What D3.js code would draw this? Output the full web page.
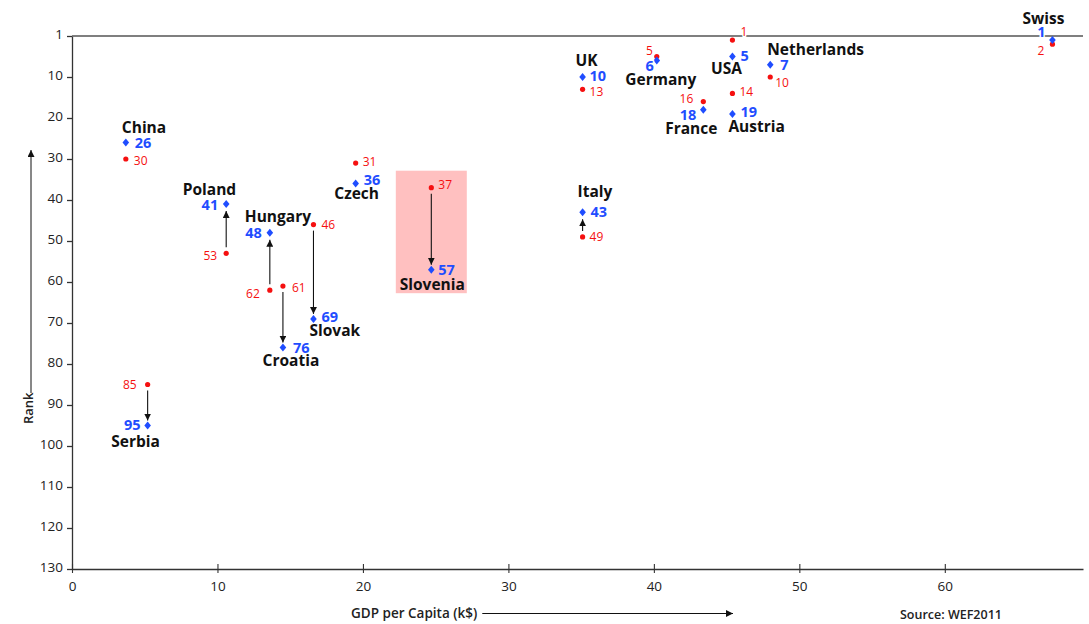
<!DOCTYPE html>
<html><head><meta charset="utf-8">
<script src="https://cdn.jsdelivr.net/npm/d3@7"></script>
<style>
body{margin:0;background:#fff}
svg text{font-family:"Open Sans","Noto Sans",sans-serif}
</style>
</head><body>
<svg id="chart" width="1089" height="624"></svg>
<script>
// ---------- data ----------
const countries = ["Swiss","USA","Netherlands","Germany","UK","France","Austria","China","Czech","Poland","Hungary","Croatia","Slovak","Slovenia","Italy","Serbia"];
const gdp       = [67.4, 45.4, 48.0, 40.2, 35.1, 43.4, 45.4, 3.7, 19.5, 10.6, 13.6, 14.5, 16.6, 24.7, 35.1, 5.2];
const rankNew   = [1, 5, 7, 6, 10, 18, 19, 26, 36, 41, 48, 76, 69, 57, 43, 95];   // blue diamonds
const rankOld   = [2, 1, 10, 5, 13, 16, 14, 30, 31, 53, 62, 61, 46, 37, 49, 85];  // red dots
const arrowCountries = ["Poland","Hungary","Croatia","Slovak","Slovenia","Italy","Serbia"];
const highlighted = ["Slovenia"];
const xTickValues = [0,10,20,30,40,50,60];
const yTickValues = [0,10,20,30,40,50,60,70,80,90,100,110,120,130];
const yTickLabels = ["1","10","20","30","40","50","60","70","80","90","100","110","120","130"];
const xTitle = "GDP per Capita (k$)";
const yTitle = "Rank";
const sourceText = "Source: WEF2011";

// ---------- label layout (anchor, dx, dy relative to marker) ----------
const labelLayout = {
  Swiss:       {name:["middle",-9,-16], blue:["end",-7,-3], red:["end",-8,11]},
  USA:         {name:["middle",-6,17],  blue:["start",8,4], red:["start",8,-4]},
  Netherlands: {name:["start",-3,-10],  blue:["start",10,5],red:["start",5,10]},
  Germany:     {name:["middle",4,24],   blue:["end",-3,10], red:["end",-4,-2]},
  UK:          {name:["start",-7,-11],  blue:["start",7,4], red:["start",7,7]},
  France:      {name:["middle",-12,24], blue:["end",-7,10], red:["end",-10,1]},
  Austria:     {name:["start",-4,18],   blue:["start",8,3], red:["start",7,3]},
  China:       {name:["start",-4,-10],  blue:["start",9,5], red:["start",8,6]},
  Czech:       {name:["middle",1,15.5], blue:["start",8,1], red:["start",7,3]},
  Poland:      {name:["end",10,-9],     blue:["end",-8,6],  red:["end",-9,6.5]},
  Hungary:     {name:["start",-25,-11], blue:["end",-8,5],  red:["end",-10,8]},
  Croatia:     {name:["middle",8,18],   blue:["start",10,5],red:["start",9,6]},
  Slovak:      {name:["start",-4,17],   blue:["start",8,3], red:["start",8,4]},
  Slovenia:    {name:["middle",1,20],   blue:["start",7,5], red:["start",7,1]},
  Italy:       {name:["start",-5,-15],  blue:["start",8,5], red:["start",7,4]},
  Serbia:      {name:["middle",-12,21], blue:["end",-7,4],  red:["end",-11,4]}
};

const BLUE = "#1f4dff", RED = "#f51010", PINK = "#ffc0c0", AXIS = "#333";

const svg = d3.select("#chart");
const x = d3.scaleLinear().domain([0, 69.5]).range([72, 1083]);
const y = d3.scaleLinear().domain([0, 130]).range([36, 569]);

const rows = countries.map((c,i)=>({c, gdp:gdp[i], rn:rankNew[i], ro:rankOld[i]}));

// highlight box
svg.append("g").selectAll("rect").data(rows.filter(d=>highlighted.includes(d.c))).join("rect")
  .attr("x", d=>x(d.gdp)-35.5).attr("width", 71)
  .attr("y", d=>y(Math.min(d.rn,d.ro))-17)
  .attr("height", d=>y(Math.max(d.rn,d.ro))+23.5-(y(Math.min(d.rn,d.ro))-17))
  .attr("fill", PINK);

// axes
const yAxis = d3.axisLeft(y).tickValues(yTickValues).tickFormat((d,i)=>yTickLabels[i]).tickSizeInner(5).tickSizeOuter(0);
const gy = svg.append("g").attr("transform",`translate(${x(0)},0)`).call(yAxis);
gy.select(".domain").attr("stroke",AXIS).attr("stroke-width",1.3);
gy.selectAll(".tick line").attr("stroke",AXIS).attr("stroke-width",1.3);
gy.selectAll(".tick text").attr("x",-9).attr("dy","0.15em").attr("fill","#222")
  .style("font-size","13.5px").style("font-family",'"Open Sans",sans-serif');

const xAxis = d3.axisBottom(x).tickValues(xTickValues).tickFormat(d3.format("d")).tickSizeInner(5).tickSizeOuter(0);
const gx = svg.append("g").attr("transform",`translate(0,${y(130)})`).call(xAxis);
gx.select(".domain").attr("stroke",AXIS).attr("stroke-width",1.3);
gx.selectAll(".tick line").attr("y1",-5).attr("y2",4).attr("stroke",AXIS).attr("stroke-width",1.1);
gx.selectAll(".tick text").attr("y",12).attr("dy","0.71em").attr("fill","#222")
  .style("font-size","13.5px").style("font-family",'"Open Sans",sans-serif');

// top line at rank "1"
svg.append("line").attr("x1",x(0)).attr("x2",x(69.5)).attr("y1",y(0)).attr("y2",y(0))
  .attr("stroke","#555").attr("stroke-width",1.3);

// arrowhead marker
const defs = svg.append("defs");
defs.append("marker").attr("id","ah").attr("viewBox","0 0 10 10").attr("refX",10).attr("refY",5)
  .attr("markerWidth",7).attr("markerHeight",7).attr("markerUnits","userSpaceOnUse").attr("orient","auto")
  .append("path").attr("d","M0,0L10,5L0,10Z").attr("fill","#111");

// arrows (old rank -> new rank)
svg.append("g").selectAll("line").data(rows.filter(d=>arrowCountries.includes(d.c))).join("line")
  .attr("x1",d=>x(d.gdp)).attr("x2",d=>x(d.gdp))
  .attr("y1",d=>y(d.ro)+(d.rn>d.ro?6:-6))
  .attr("y2",d=>y(d.rn)+(d.rn>d.ro?-5:7))
  .attr("stroke","#111").attr("stroke-width",1.1).attr("marker-end","url(#ah)");

// red dots
svg.append("g").selectAll("circle").data(rows).join("circle")
  .attr("cx",d=>x(d.gdp)).attr("cy",d=>y(d.ro)).attr("r",2.6).attr("fill",RED);

// blue diamonds
const rhombus = {draw(ctx){ ctx.moveTo(0,-4); ctx.lineTo(3.3,0); ctx.lineTo(0,4); ctx.lineTo(-3.3,0); ctx.closePath(); }};
svg.append("g").selectAll("path").data(rows).join("path")
  .attr("transform",d=>`translate(${x(d.gdp)},${y(d.rn)})`)
  .attr("d",d3.symbol().type(rhombus)()).attr("fill",BLUE);

// labels
const halo = d=> highlighted.includes(d.c) ? PINK : "#fff";
const lab = svg.append("g");
lab.selectAll("text.red").data(rows).join("text").attr("class","red")
  .attr("x",d=>x(d.gdp)+labelLayout[d.c].red[1]).attr("y",d=>y(d.ro)+labelLayout[d.c].red[2])
  .attr("text-anchor",d=>labelLayout[d.c].red[0])
  .attr("fill",RED).style("font-size","12px")
  .attr("stroke",halo).attr("stroke-width",3).attr("paint-order","stroke").attr("stroke-linejoin","round")
  .text(d=>d.ro);
lab.selectAll("text.blue").data(rows).join("text").attr("class","blue")
  .attr("x",d=>x(d.gdp)+labelLayout[d.c].blue[1]).attr("y",d=>y(d.rn)+labelLayout[d.c].blue[2])
  .attr("text-anchor",d=>labelLayout[d.c].blue[0])
  .attr("fill",BLUE).style("font-size","14.5px").style("font-weight","bold")
  .attr("stroke",halo).attr("stroke-width",3).attr("paint-order","stroke").attr("stroke-linejoin","round")
  .text(d=>d.rn);
lab.selectAll("text.name").data(rows).join("text").attr("class","name")
  .attr("x",d=>x(d.gdp)+labelLayout[d.c].name[1]).attr("y",d=>y(d.rn)+labelLayout[d.c].name[2])
  .attr("text-anchor",d=>labelLayout[d.c].name[0])
  .attr("fill","#111").style("font-size","15.5px").style("font-weight","bold")
  .text(d=>d.c);

// x title + arrow
const xt = svg.append("text").attr("x",351).attr("y",618).attr("fill","#222")
  .style("font-size","13.5px").style("font-weight","600").text(xTitle);
const xtEnd = 351 + xt.node().getComputedTextLength();
svg.append("line").attr("x1",xtEnd+5).attr("x2",733).attr("y1",613.5).attr("y2",613.5)
  .attr("stroke","#111").attr("stroke-width",1).attr("marker-end","url(#ah)");
svg.append("text").attr("x",900).attr("y",619).attr("fill","#222")
  .style("font-size","12.5px").style("font-weight","600").text(sourceText);

// y title + arrow
svg.append("text").attr("transform","translate(33,424) rotate(-90)").attr("fill","#222")
  .style("font-size","13px").style("font-weight","600").text(yTitle);
svg.append("line").attr("x1",31).attr("x2",31).attr("y1",393).attr("y2",150)
  .attr("stroke","#111").attr("stroke-width",1).attr("marker-end","url(#ah)");
</script>
</body></html>
